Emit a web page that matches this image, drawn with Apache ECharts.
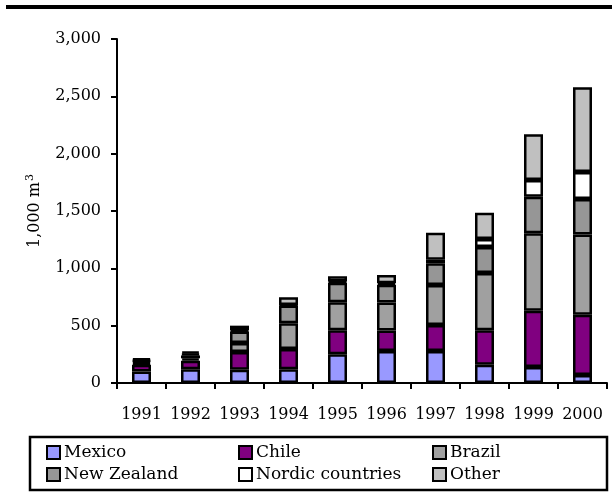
<!DOCTYPE html>
<html>
<head>
<meta charset="utf-8">
<script src="https://cdn.jsdelivr.net/npm/echarts@6/dist/echarts.min.js"></script>
<style>
  html, body { margin: 0; padding: 0; background: #fff; }
  #chart { width: 612px; height: 493px; }
</style>
</head>
<body>
<div id="chart"></div>
<script>
// Imports by origin, thousand cubic metres, 1991-2000
const years = ['1991', '1992', '1993', '1994', '1995', '1996', '1997', '1998', '1999', '2000'];
const mexico = [100, 120, 115, 120, 250, 280, 280, 160, 140, 70];
const chile = [60, 75, 155, 177, 210, 177, 225, 300, 490, 525];
const brazil = [15, 20, 78, 223, 245, 244, 350, 500, 675, 700];
const newZealand = [15, 25, 102, 155, 170, 155, 190, 225, 320, 310];
const nordic = [10, 15, 10, 5, 10, 15, 30, 70, 145, 235];
const other = [15, 20, 40, 68, 45, 70, 235, 230, 400, 740];
const yTicks = [0, 500, 1000, 1500, 2000, 2500, 3000];

const FONT = 'DejaVu Serif';

const seriesDefs = [
  { name: 'Mexico', data: mexico, color: '#9999FF' },
  { name: 'Chile', data: chile, color: '#800080' },
  { name: 'Brazil', data: brazil, color: '#A0A0A0' },
  { name: 'New Zealand', data: newZealand, color: '#969696' },
  { name: 'Nordic countries', data: nordic, color: '#FFFFFF' },
  { name: 'Other', data: other, color: '#C0C0C0' }
];

const chart = echarts.init(document.getElementById('chart'), null, { renderer: 'canvas' });

const legendBase = {
  orient: 'vertical',
  icon: 'rect',
  padding: 0,
  itemWidth: 13,
  itemHeight: 13,
  itemGap: 5,
  top: 444,
  selectedMode: false,
  itemStyle: { borderColor: '#000', borderWidth: 2 },
  textStyle: { fontFamily: FONT, fontSize: 17, color: '#000', lineHeight: 15, padding: [0, 0, 0, -1] }
};

chart.setOption({
  animation: false,
  backgroundColor: '#fff',
  grid: { left: 117, right: 5, top: 39, bottom: 110, containLabel: false },
  xAxis: {
    type: 'category',
    data: years,
    axisLine: { lineStyle: { color: '#000', width: 2 } },
    axisTick: { show: true, length: 6, lineStyle: { color: '#000', width: 2 } },
    axisLabel: { color: '#000', fontFamily: FONT, fontSize: 16, margin: 24, interval: 0 }
  },
  yAxis: {
    type: 'value',
    min: yTicks[0],
    max: yTicks[yTicks.length - 1],
    interval: yTicks[1] - yTicks[0],
    name: '1,000 m{sup|3}',
    nameLocation: 'middle',
    nameGap: 72,
    nameTextStyle: {
      color: '#000', fontFamily: FONT, fontSize: 16,
      rich: { sup: { fontFamily: FONT, fontSize: 11, color: '#000', verticalAlign: 'bottom', padding: [0, 0, 9, 1] } }
    },
    splitLine: { show: false },
    axisLine: { show: true, lineStyle: { color: '#000', width: 2 } },
    axisTick: { show: true, length: 6, lineStyle: { color: '#000', width: 2 } },
    axisLabel: {
      color: '#000', fontFamily: FONT, fontSize: 16, margin: 16,
      formatter: v => v.toLocaleString('en-US')
    }
  },
  legend: [
    Object.assign({}, legendBase, { left: 46, data: ['Mexico', 'New Zealand'] }),
    Object.assign({}, legendBase, { left: 238, data: ['Chile', 'Nordic countries'] }),
    Object.assign({}, legendBase, { left: 432, data: ['Brazil', 'Other'] })
  ],
  graphic: [
    { type: 'rect', shape: { x: 6, y: 5, width: 606, height: 4 }, style: { fill: '#000' } },
    { type: 'rect', shape: { x: 30, y: 437, width: 577, height: 53 }, style: { fill: 'none', stroke: '#000', lineWidth: 2.5 } }
  ],
  series: seriesDefs.map(s => ({
    name: s.name,
    type: 'bar',
    stack: 'total',
    barWidth: 19,
    data: s.data,
    itemStyle: { color: s.color, borderColor: '#000', borderWidth: 2.5 },
    emphasis: { disabled: true }
  }))
});
</script>
</body>
</html>
